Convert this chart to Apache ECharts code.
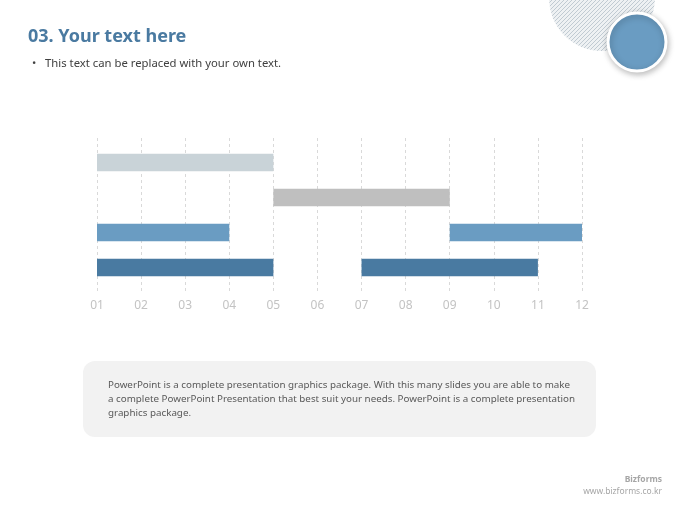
<!DOCTYPE html>
<html>
<head>
<meta charset="utf-8">
<script src="https://cdn.jsdelivr.net/npm/echarts@6/dist/echarts.min.js"></script>
<style>
  html, body { margin: 0; padding: 0; background: #fff; }
  #main { width: 680px; height: 510px; }
</style>
</head>
<body>
<div id="main"></div>
<script>
// x axis tick labels (months)
var monthLabels = ['01', '02', '03', '04', '05', '06', '07', '08', '09', '10', '11', '12'];
// one entry per bar: which row, start month, end month
var taskRow = [0, 1, 2, 2, 3, 3];
var taskStart = [1, 5, 1, 9, 1, 7];
var taskEnd = [5, 9, 4, 12, 5, 11];
var rowColors = ['#c9d3d8', '#bfbfbf', '#6a9cc2', '#497aa1'];

var taskData = taskRow.map(function (r, i) {
  return [r, taskStart[i], taskEnd[i]];
});

// striped fill for the decorative circle
var stripe = document.createElement('canvas');
stripe.width = 4;
stripe.height = 4;
var sctx = stripe.getContext('2d');
sctx.fillStyle = '#eef1f3';
sctx.fillRect(0, 0, 4, 4);
sctx.strokeStyle = '#c0cad2';
sctx.lineWidth = 1;
sctx.beginPath();
sctx.moveTo(0, 4); sctx.lineTo(4, 0);
sctx.moveTo(-1, 1); sctx.lineTo(1, -1);
sctx.moveTo(3, 5); sctx.lineTo(5, 3);
sctx.stroke();

var myChart = echarts.init(document.getElementById('main'));

myChart.setOption({
  animation: false,
  backgroundColor: '#ffffff',
  title: {
    text: '03. Your text here',
    left: 23,
    top: 23,
    textStyle: {
      color: '#4a7aa1',
      fontSize: 18,
      fontWeight: 'bold',
      fontFamily: 'Noto Sans'
    }
  },
  graphic: [
    {
      type: 'circle',
      shape: { cx: 602, cy: -2, r: 53 },
      style: { fill: { image: stripe, repeat: 'repeat' } },
      silent: true
    },
    {
      type: 'circle',
      shape: { cx: 637, cy: 42, r: 29 },
      style: {
        fill: '#6a9cc2',
        stroke: '#ffffff',
        lineWidth: 3,
        shadowBlur: 6,
        shadowOffsetX: 1,
        shadowOffsetY: 2,
        shadowColor: 'rgba(0,0,0,0.25)'
      },
      silent: true
    },
    {
      type: 'text',
      left: 32,
      top: 58,
      style: {
        text: '\u2022   This text can be replaced with your own text.',
        fill: '#404040',
        font: '11.3px "Noto Sans"'
      }
    },
    {
      type: 'rect',
      shape: { x: 83, y: 361, width: 513, height: 76, r: 12 },
      style: { fill: '#f2f2f2' },
      silent: true
    },
    {
      type: 'text',
      left: 108,
      top: 378,
      style: {
        text: 'PowerPoint is a complete presentation graphics package. With this many slides you are able to make\n' +
          'a complete PowerPoint Presentation that best suit your needs. PowerPoint is a complete presentation\n' +
          'graphics package.',
        fill: '#595959',
        font: '9.8px "Noto Sans"',
        lineHeight: 14
      }
    },
    {
      type: 'text',
      right: 18,
      top: 475,
      style: {
        text: 'Bizforms',
        fill: '#a6a6a6',
        font: 'bold 8.5px "Noto Sans"',
        align: 'right'
      }
    },
    {
      type: 'text',
      right: 18,
      top: 487,
      style: {
        text: 'www.bizforms.co.kr',
        fill: '#a6a6a6',
        font: '8.5px "Noto Sans"',
        align: 'right'
      }
    }
  ],
  grid: {
    left: 97,
    right: 98,
    top: 138,
    bottom: 218
  },
  xAxis: {
    type: 'value',
    min: 1,
    max: 12,
    interval: 1,
    axisLine: { show: false },
    axisTick: { show: false },
    axisLabel: {
      color: '#c3c3c3',
      fontSize: 12,
      fontFamily: 'Noto Sans',
      margin: 8,
      formatter: function (v) {
        return monthLabels[v - 1];
      }
    },
    splitLine: {
      show: true,
      lineStyle: { color: '#d9d9d9', type: [3, 3], width: 1 }
    }
  },
  yAxis: {
    type: 'value',
    min: -0.7,
    max: 3.7,
    inverse: true,
    show: false,
    splitLine: { show: false }
  },
  series: [
    {
      type: 'custom',
      data: taskData,
      encode: { x: [1, 2], y: 0 },
      renderItem: function (params, api) {
        var row = api.value(0);
        var p0 = api.coord([api.value(1), row]);
        var p1 = api.coord([api.value(2), row]);
        var h = api.size([0, 0.5])[1];
        return {
          type: 'rect',
          shape: { x: p0[0], y: p0[1] - h / 2, width: p1[0] - p0[0], height: h },
          style: { fill: rowColors[row] }
        };
      }
    }
  ]
});
</script>
</body>
</html>
